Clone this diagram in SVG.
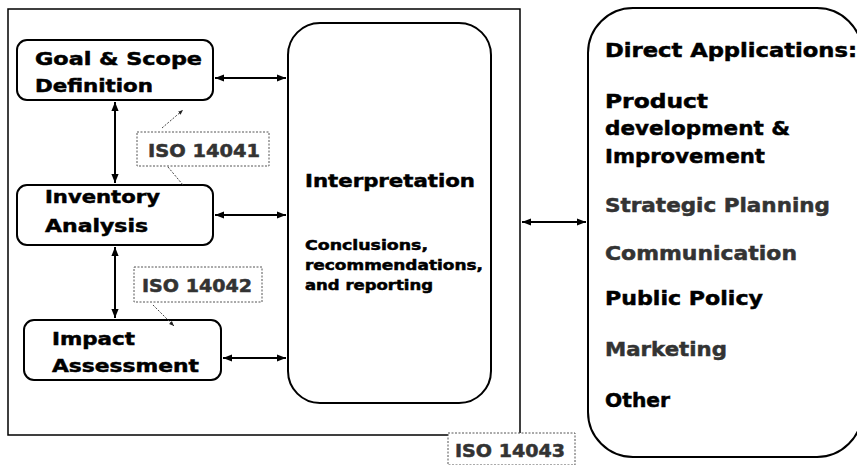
<svg xmlns="http://www.w3.org/2000/svg" width="857" height="465" viewBox="0 0 857 465">
<style>
.box{fill:#fff;stroke:#000;stroke-width:2}
.t{font-family:"DejaVu Sans",sans-serif;font-weight:bold;fill:#000;stroke:#000;stroke-width:0.5}
.g{fill:#333;stroke:#333}
.iso{fill:#fff;stroke:#555;stroke-width:1;stroke-dasharray:2 1.5}
.con{stroke:#000;stroke-width:2;fill:none;marker-start:url(#ah);marker-end:url(#ah)}
.lead{stroke:#444;stroke-width:1;stroke-dasharray:2 1.5;fill:none}
</style>
<defs>
<marker id="ah" viewBox="0 0 10 10" refX="10" refY="5" markerWidth="4.5" markerHeight="4.5" orient="auto-start-reverse" markerUnits="strokeWidth"><path d="M0,1 L10,5 L0,9 z" fill="#000"/></marker>
<marker id="sa" viewBox="0 0 10 10" refX="10" refY="5" markerWidth="5" markerHeight="5" orient="auto" markerUnits="userSpaceOnUse"><path d="M0,1 L10,5 L0,9 z" fill="#222"/></marker>
</defs>
<rect id="frame" x="8" y="9" width="512" height="426" fill="none" stroke="#000" stroke-width="1.5"/>
<g id="goal">
<rect class="box" x="17" y="40" width="196" height="60" rx="10"/>
<text class="t" font-size="18" x="35" y="65" textLength="167" lengthAdjust="spacingAndGlyphs">Goal &amp; Scope</text>
<text class="t" font-size="18" x="35" y="92" textLength="118" lengthAdjust="spacingAndGlyphs">Definition</text>
</g>
<g id="inventory">
<rect class="box" x="17" y="185" width="196" height="60" rx="10"/>
<text class="t" font-size="18" x="45" y="203" textLength="115" lengthAdjust="spacingAndGlyphs">Inventory</text>
<text class="t" font-size="18" x="45" y="232" textLength="103" lengthAdjust="spacingAndGlyphs">Analysis</text>
</g>
<g id="impact">
<rect class="box" x="24" y="320" width="197" height="60" rx="10"/>
<text class="t" font-size="18" x="52" y="345" textLength="83" lengthAdjust="spacingAndGlyphs">Impact</text>
<text class="t" font-size="18" x="52" y="372" textLength="147" lengthAdjust="spacingAndGlyphs">Assessment</text>
</g>
<g id="interpretation">
<rect class="box" x="288" y="23" width="203" height="380" rx="32"/>
<text class="t" font-size="18" x="305" y="187" textLength="170" lengthAdjust="spacingAndGlyphs">Interpretation</text>
<text class="t" font-size="14" x="305" y="250" textLength="123" lengthAdjust="spacingAndGlyphs">Conclusions,</text>
<text class="t" font-size="14" x="305" y="270" textLength="178" lengthAdjust="spacingAndGlyphs">recommendations,</text>
<text class="t" font-size="14" x="305" y="290" textLength="128" lengthAdjust="spacingAndGlyphs">and reporting</text>
</g>
<g id="applications">
<rect class="box" x="588" y="8" width="274" height="449" rx="45"/>
<text class="t" font-size="20" x="605" y="57" textLength="252" lengthAdjust="spacingAndGlyphs">Direct Applications:</text>
<text class="t" font-size="20" x="605" y="108" textLength="103" lengthAdjust="spacingAndGlyphs">Product</text>
<text class="t" font-size="20" x="605" y="135" textLength="185" lengthAdjust="spacingAndGlyphs">development &amp;</text>
<text class="t" font-size="20" x="605" y="163" textLength="160" lengthAdjust="spacingAndGlyphs">Improvement</text>
<text class="t g" font-size="20" x="605" y="212" textLength="225" lengthAdjust="spacingAndGlyphs">Strategic Planning</text>
<text class="t g" font-size="20" x="605" y="260" textLength="192" lengthAdjust="spacingAndGlyphs">Communication</text>
<text class="t" font-size="20" x="605" y="305" textLength="158" lengthAdjust="spacingAndGlyphs">Public Policy</text>
<text class="t g" font-size="20" x="605" y="356" textLength="122" lengthAdjust="spacingAndGlyphs">Marketing</text>
<text class="t" font-size="20" x="605" y="407" textLength="65" lengthAdjust="spacingAndGlyphs">Other</text>
</g>
<g id="iso14041">
<rect class="iso" x="137" y="132" width="132" height="34"/>
<text class="t g" font-size="17" x="148" y="157" textLength="112" lengthAdjust="spacingAndGlyphs">ISO 14041</text>
</g>
<g id="iso14042">
<rect class="iso" x="134" y="267" width="128" height="35"/>
<text class="t g" font-size="17" x="142" y="292" textLength="110" lengthAdjust="spacingAndGlyphs">ISO 14042</text>
</g>
<g id="iso14043">
<rect class="iso" x="448" y="433" width="127" height="32"/>
<text class="t g" font-size="17" x="455" y="457" textLength="110" lengthAdjust="spacingAndGlyphs">ISO 14043</text>
</g>
<g id="connectors">
<line class="con" x1="215" y1="78" x2="286" y2="78"/>
<line class="con" x1="215" y1="215" x2="286" y2="215"/>
<line class="con" x1="223" y1="358" x2="286" y2="358"/>
<line class="con" x1="115" y1="102" x2="115" y2="183"/>
<line class="con" x1="115" y1="247" x2="115" y2="318"/>
<line class="con" x1="522" y1="222" x2="586" y2="222"/>
<line class="lead" x1="162" y1="128" x2="183" y2="110" marker-end="url(#sa)"/>
<line class="lead" x1="168" y1="167" x2="183" y2="185"/>
<line class="lead" x1="153" y1="305" x2="174" y2="326" marker-end="url(#sa)"/>
</g>
</svg>
